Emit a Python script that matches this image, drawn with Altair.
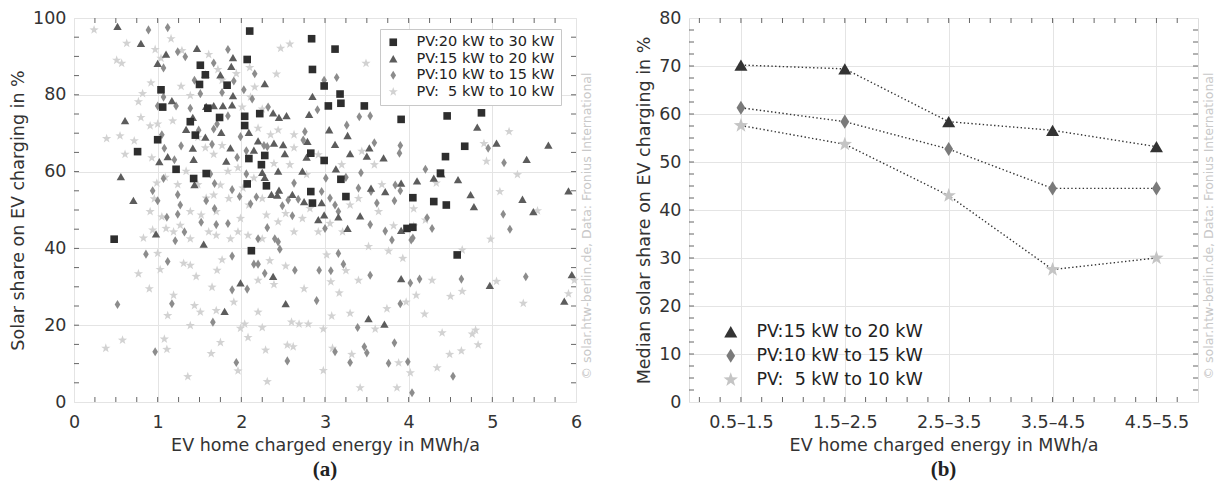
import altair as alt
import pandas as pd

FONT = "DejaVu Sans"
W_A, W_B, H = 502, 509, 384

# ---------------- Panel (a) data ----------------
series_a = ["PV:20 kW to 30 kW", "PV:15 kW to 20 kW", "PV:10 kW to 15 kW", "PV:\u20075 kW to 10 kW"]

sq_x = [0.48, 2.10, 2.84, 3.12, 2.85, 1.51, 2.07, 2.99, 3.18, 1.04, 1.06, 1.57, 1.50, 1.60, 1.83, 1.74,
        2.22, 2.04, 3.04, 3.19, 3.47, 3.91, 4.46, 4.87, 4.67, 4.44, 4.38, 4.30, 4.45, 4.05, 3.98, 4.05,
        1.00, 0.76, 1.22, 1.39, 1.45, 1.43, 1.58, 2.04, 2.09, 2.07, 2.24, 2.28, 2.30, 2.83, 2.99, 2.83,
        2.85, 3.19, 3.25, 2.12, 4.58]
sq_y = [42.4, 96.6, 94.6, 91.9, 86.6, 87.7, 89.2, 82.3, 80.2, 81.3, 76.8, 85.2, 82.7, 76.5, 82.5, 74.1,
        75.1, 74.4, 77.1, 77.8, 77.1, 73.6, 74.5, 75.3, 66.6, 63.9, 59.6, 52.2, 51.3, 53.2, 45.2, 45.5,
        68.3, 65.2, 60.6, 73.0, 69.5, 58.2, 59.5, 72.0, 63.4, 56.8, 61.8, 64.2, 56.3, 64.8, 62.9, 54.8,
        51.8, 58.0, 53.5, 39.4, 38.3]

tri_x = [0.52, 0.80, 1.47, 1.90, 1.10, 1.00, 0.61, 0.56, 0.71, 0.98, 1.17, 1.02, 1.12, 1.34, 1.42, 1.43,
         1.44, 1.42, 1.57, 1.57, 1.58, 1.67, 1.75, 1.78, 1.89, 1.88, 1.90, 1.76, 1.82, 1.87, 2.09, 2.15,
         2.20, 2.28, 2.38, 2.45, 2.54, 2.39, 2.50, 2.52, 2.44, 2.25, 2.28, 2.36, 2.43, 2.45, 2.61, 2.75,
         2.73, 2.78, 2.79, 2.81, 2.85, 2.96, 2.92, 2.99, 3.05, 3.12, 3.13, 3.16, 3.27, 3.30, 3.27, 3.42,
         3.50, 3.53, 3.70, 3.55, 3.91, 4.10, 4.30, 4.39, 4.59, 4.74, 4.78, 4.82, 5.05, 5.36, 5.41, 5.49,
         5.67, 5.91, 3.72, 3.91, 1.55, 1.99, 1.80, 2.38, 2.53, 3.52, 3.71, 3.91, 4.97, 5.95, 5.86]
tri_y = [97.8, 93.4, 92.1, 89.7, 90.6, 88.2, 73.3, 58.7, 52.5, 43.8, 78.5, 62.6, 63.9, 71.0, 66.1, 63.2,
         56.6, 74.1, 85.4, 69.0, 77.0, 77.2, 85.2, 77.2, 77.4, 87.4, 79.8, 70.2, 62.7, 66.2, 70.2, 65.6,
         68.0, 82.9, 75.3, 74.1, 74.6, 67.4, 67.0, 64.7, 60.1, 59.8, 58.5, 54.1, 53.9, 55.2, 54.1, 52.2,
         60.1, 63.8, 67.9, 74.9, 79.6, 51.9, 47.5, 48.7, 70.9, 67.1, 60.7, 48.2, 69.4, 64.7, 45.2, 48.5,
         64.0, 66.2, 63.6, 55.7, 57.0, 57.6, 58.3, 59.4, 57.9, 54.0, 50.9, 71.6, 67.4, 52.8, 63.2, 49.6,
         66.9, 55.0, 54.8, 44.7, 41.1, 31.0, 23.6, 32.7, 25.6, 21.7, 20.3, 32.1, 30.4, 33.2, 26.3]

dia_x = [0.89, 1.12, 1.24, 1.07, 1.07, 1.00, 1.22, 1.33, 1.84, 1.67, 1.91, 1.77, 1.44, 1.51, 2.03, 2.13,
         2.32, 2.16, 2.91, 2.99, 3.14, 3.41, 3.26, 3.59, 3.54, 2.76, 2.74, 1.05, 1.08, 1.28, 1.20, 1.39,
         1.49, 1.65, 1.71, 1.84, 1.67, 1.99, 1.95, 2.06, 2.27, 2.31, 1.89, 1.98, 2.06, 1.63, 1.68, 1.58,
         1.52, 1.68, 1.70, 1.84, 1.27, 1.00, 1.11, 1.24, 1.32, 1.21, 0.94, 1.07, 1.24, 2.11, 2.18, 2.31,
         2.20, 2.40, 2.44, 2.61, 2.56, 2.49, 2.63, 2.68, 3.01, 2.96, 3.06, 3.12, 3.16, 3.00, 3.25, 3.40,
         3.43, 3.55, 3.62, 3.54, 3.72, 3.83, 3.84, 3.90, 4.05, 4.20, 4.22, 4.28, 4.95, 5.14, 5.13, 5.21,
         3.90, 3.89, 0.86, 0.52, 1.12, 1.17, 0.97, 1.89, 1.89, 2.07, 1.94, 1.66, 2.15, 2.20, 2.28, 2.46,
         2.55, 2.64, 2.93, 2.90, 3.07, 3.16, 3.12, 3.22, 3.30, 3.39, 3.47, 3.50, 3.54, 3.76, 3.83, 3.90,
         3.99, 4.02, 4.04, 4.13, 4.63, 4.53, 5.40, 4.03, 3.80]
dia_y = [96.9, 97.5, 91.2, 87.0, 79.4, 77.1, 77.1, 89.9, 91.8, 88.3, 83.6, 80.6, 83.8, 80.3, 81.3, 78.9,
         76.8, 85.5, 76.1, 83.8, 84.5, 74.3, 72.1, 67.5, 74.5, 70.4, 68.2, 69.6, 66.1, 66.7, 63.1, 76.5,
         70.8, 67.1, 72.4, 74.5, 71.1, 69.1, 63.7, 65.4, 66.8, 66.5, 55.3, 53.5, 59.4, 59.4, 56.9, 52.4,
         46.8, 50.4, 46.2, 46.5, 51.3, 52.4, 48.1, 48.9, 44.3, 42.0, 55.0, 58.2, 54.0, 51.6, 53.4, 45.4,
         42.5, 42.5, 41.7, 48.5, 52.6, 51.1, 57.0, 52.8, 58.3, 54.8, 53.1, 51.3, 49.6, 45.2, 58.5, 55.7,
         59.7, 54.8, 51.8, 46.2, 44.5, 52.4, 56.5, 55.0, 42.7, 60.6, 48.0, 45.2, 66.1, 62.3, 48.9, 45.0,
         66.8, 64.8, 38.5, 25.4, 36.6, 25.6, 13.1, 38.0, 29.2, 29.4, 10.3, 20.8, 35.9, 35.9, 33.5, 39.8,
         10.7, 34.3, 34.3, 26.4, 34.2, 38.7, 13.1, 35.9, 10.3, 19.4, 14.4, 12.8, 33.0, 10.1, 15.4, 25.6,
         10.5, 31.0, 2.4, 32.0, 32.0, 6.7, 32.6, 42.2, 42.2]

star_x = [0.24, 0.51, 0.57, 0.63, 0.92, 1.04, 0.97, 0.82, 0.77, 0.80, 0.39, 0.55, 0.72, 0.61, 1.00, 0.91,
          1.16, 1.29, 1.28, 1.39, 1.18, 1.61, 1.72, 1.77, 1.94, 2.10, 2.16, 2.42, 2.47, 2.58, 3.49, 5.20,
          4.98, 5.54, 4.20, 4.06, 4.06, 3.82, 4.33, 4.90, 4.93, 5.09, 5.30, 0.93, 1.09, 0.99, 0.96, 0.91,
          1.05, 1.10, 1.19, 0.94, 0.83, 1.39, 1.61, 1.70, 1.67, 1.75, 1.85, 1.96, 2.02, 2.15, 2.09, 2.25,
          2.30, 1.96, 1.99, 2.08, 2.44, 2.53, 2.63, 2.73, 2.82, 2.92, 3.06, 3.21, 3.30, 3.40, 3.64, 3.68,
          2.58, 2.78, 2.39, 2.63, 2.92, 3.20, 3.44, 3.59, 1.48, 1.57, 1.67, 1.77, 1.84, 1.34, 1.24, 1.48,
          1.58, 1.39, 1.27, 1.52, 1.70, 1.87, 2.25, 2.44, 2.20, 2.35, 2.63, 2.01, 2.11, 2.25,
          0.38, 0.58, 0.77, 0.90, 1.00, 1.03, 1.08, 1.11, 1.12, 1.19, 1.31, 1.39, 1.36, 1.39, 1.44, 1.51,
          1.46, 1.65, 1.71, 1.70, 1.77, 1.75, 1.64, 1.91, 1.96, 1.99, 2.08, 2.04, 2.20, 2.25, 2.20, 2.29,
          2.31, 2.34, 2.39, 2.53, 2.55, 2.62, 2.60, 2.69, 2.75, 2.80, 2.98, 2.98, 3.02, 3.07, 3.08, 3.09,
          3.17, 3.25, 3.30, 3.32, 3.40, 3.42, 3.52, 3.60, 3.76, 3.74, 3.88, 3.86, 3.93, 3.97, 4.02, 4.09,
          4.19, 4.28, 4.34, 4.40, 4.50, 4.49, 4.63, 4.64, 4.76, 4.80, 4.83, 5.05, 5.37, 5.91, 5.98, 4.64]
star_y = [96.9, 89.0, 88.2, 93.4, 83.1, 89.5, 91.8, 80.3, 78.2, 74.1, 68.6, 69.3, 68.0, 64.5, 72.4, 71.9,
          94.6, 91.5, 82.2, 79.8, 73.2, 90.5, 86.6, 83.8, 85.5, 87.1, 82.0, 85.4, 92.1, 93.2, 88.2, 70.4,
          42.4, 49.8, 47.4, 50.3, 45.8, 45.9, 57.0, 67.3, 62.7, 54.8, 59.2, 63.6, 58.5, 57.0, 52.9, 49.6,
          48.2, 45.2, 44.3, 44.8, 42.7, 42.5, 44.3, 49.6, 53.9, 56.5, 53.0, 61.0, 55.7, 58.3, 51.3, 53.0,
          48.7, 44.3, 47.8, 43.4, 46.9, 49.1, 44.3, 47.8, 50.4, 44.3, 46.5, 44.3, 51.3, 53.0, 49.6, 56.6,
          61.8, 59.2, 62.1, 66.2, 64.4, 61.8, 65.3, 61.8, 68.9, 66.2, 64.5, 66.8, 60.1, 60.1, 56.6, 56.6,
          53.1, 49.6, 46.0, 48.7, 43.4, 42.5, 42.5, 70.8, 71.3, 69.6, 69.6, 76.8, 79.4, 76.3,
          14.0, 16.1, 33.4, 29.5, 38.7, 34.5, 16.4, 13.7, 22.5, 27.8, 36.1, 35.6, 6.6, 19.9, 25.1, 23.4,
          32.7, 29.9, 34.3, 23.8, 37.0, 15.5, 12.6, 26.0, 8.1, 19.2, 16.8, 20.3, 23.4, 19.4, 31.7, 13.5,
          5.3, 36.8, 30.6, 35.4, 14.8, 14.4, 20.8, 20.3, 29.5, 20.3, 19.0, 8.2, 38.3, 31.3, 22.4, 14.0,
          28.4, 34.2, 23.1, 12.4, 31.7, 3.7, 40.5, 19.0, 39.3, 24.3, 10.2, 3.7, 37.4, 26.0, 7.6, 27.8,
          22.9, 31.7, 8.9, 18.0, 27.5, 12.4, 13.3, 28.8, 17.7, 18.7, 14.9, 31.4, 25.7, 28.2, 31.7, 39.6]

a_x_labels = [0, 1, 2, 3, 4, 5, 6]
a_y_labels = [0, 20, 40, 60, 80, 100]

# ---------------- Panel (b) data ----------------
series_b = ["PV:15 kW to 20 kW", "PV:10 kW to 15 kW", "PV:\u20075 kW to 10 kW"]
b_categories = ["0.5\u20131.5", "1.5\u20132.5", "2.5\u20133.5", "3.5\u20134.5", "4.5\u20135.5"]
b_tri = [70.2, 69.4, 58.4, 56.6, 53.2]
b_dia = [61.3, 58.4, 52.7, 44.5, 44.5]
b_star = [57.6, 53.7, 43.0, 27.6, 30.0]
b_y_labels = [0, 10, 20, 30, 40, 50, 60, 70, 80]

watermark = "\u00a9 solar.htw-berlin.de, Data: Fronius International"

# ---------------- styles ----------------
STAR = ("M0,-1L0.235,-0.324L0.951,-0.309L0.38,0.124L0.588,0.809L0,0.4"
        "L-0.588,0.809L-0.38,0.124L-0.951,-0.309L-0.235,-0.324Z")
DIAMOND = "M0,-1L0.62,0L0,1L-0.62,0Z"

rows = []
for name, xs, ys in [(series_a[3], star_x, star_y), (series_a[2], dia_x, dia_y),
                     (series_a[1], tri_x, tri_y), (series_a[0], sq_x, sq_y)]:
    for xv, yv in zip(xs, ys):
        rows.append({"x": xv, "y": yv, "series": name})
df_a = pd.DataFrame(rows)

rows_b = []
for name, vals in zip(series_b, [b_tri, b_dia, b_star]):
    for i, v in enumerate(vals):
        rows_b.append({"pos": i + 1, "y": v, "series": name})
df_b = pd.DataFrame(rows_b)

axis_common = dict(labelFont=FONT, labelFontSize=17.5, labelColor="#333", titleFont=FONT,
                   titleFontSize=17.5, titleColor="#333", titleFontWeight="normal", domain=False,
                   ticks=False, grid=True, gridColor="#e4e4e4", gridWidth=1, labelFlush=False,
                   labelOverlap=False)
TL = 5
TICK_COLOR = "#666"


def wm_layer(width):
    return alt.Chart(pd.DataFrame({"t": [watermark]})).mark_text(
        angle=270, font=FONT, fontSize=12.5, color="#c8c8c8", align="center", baseline="middle"
    ).encode(text="t:N", x=alt.value(width + 11), y=alt.value(208))


def tick_layers(xvals, yvals, xscale, yscale, width):
    dx = pd.DataFrame({"x": xvals})
    dy = pd.DataFrame({"y": yvals})
    layers = []
    for y1, y2 in [(0, TL), (H - TL, H)]:
        layers.append(alt.Chart(dx).mark_rule(color=TICK_COLOR, strokeWidth=1).encode(
            x=alt.X("x:Q", scale=xscale), y=alt.value(y1), y2=alt.value(y2)))
    for x1, x2 in [(0, TL), (width - TL, width)]:
        layers.append(alt.Chart(dy).mark_rule(color=TICK_COLOR, strokeWidth=1).encode(
            y=alt.Y("y:Q", scale=yscale), x=alt.value(x1), x2=alt.value(x2)))
    return layers


# ---------------- Panel (a) ----------------
xs_a = alt.Scale(domain=[0, 6], nice=False, zero=False)
ys_a = alt.Scale(domain=[0, 100], nice=False)
a_x_ticks = [i * 0.25 for i in range(1, 24)]
a_y_ticks = [i * 5 for i in range(1, 20)]

legend_a = alt.Legend(title=None, orient="none", legendX=306, legendY=11, labelFont=FONT,
                      labelFontSize=14.5, labelColor="#222", symbolSize=65, rowPadding=1.5,
                      padding=6, strokeColor="#c8c8c8", fillColor="white", labelOffset=16,
                      symbolStrokeWidth=0, labelLimit=300)

pts_a = alt.Chart(df_a).mark_point(filled=True, opacity=1, strokeWidth=0).encode(
    x=alt.X("x:Q", scale=xs_a, axis=alt.Axis(values=a_x_labels, format="d",
                                             title="EV home charged energy in MWh/a",
                                             labelPadding=11, titlePadding=6, **axis_common)),
    y=alt.Y("y:Q", scale=ys_a, axis=alt.Axis(values=a_y_labels, format="d",
                                             title="Solar share on EV charging in %",
                                             labelPadding=8, titlePadding=5, **axis_common)),
    shape=alt.Shape("series:N", scale=alt.Scale(domain=series_a, range=["square", "triangle-up", DIAMOND, STAR]),
                    legend=legend_a),
    color=alt.Color("series:N", scale=alt.Scale(domain=series_a, range=["#2e2e2e", "#5c5c5c", "#8c8c8c", "#d2d2d2"]),
                    legend=legend_a),
    size=alt.Size("series:N", scale=alt.Scale(domain=series_a, range=[58, 95, 135, 95]), legend=None),
)

chart_a = alt.layer(pts_a, *tick_layers(a_x_ticks, a_y_ticks, xs_a, ys_a, W_A), wm_layer(W_A)).properties(
    width=W_A, height=H,
    title=alt.TitleParams("(a)", orient="bottom", font="Liberation Serif", fontSize=21, fontWeight="bold",
                          color="#222", offset=5))

# ---------------- Panel (b) ----------------
xs_b = alt.Scale(domain=[0.5, 5.4], nice=False, zero=False)
ys_b = alt.Scale(domain=[0, 80], nice=False)
b_x_ticks = [round(0.6 + 0.2 * i, 1) for i in range(24)]
b_y_ticks = [i * 2.5 for i in range(1, 32)]
label_expr = "[" + ",".join("'" + c + "'" for c in b_categories) + "][datum.value - 1]"

legend_b = alt.Legend(title=None, orient="none", legendX=33, legendY=305, labelFont=FONT,
                      labelFontSize=17.5, labelColor="#222", symbolSize=95, rowPadding=5,
                      labelOffset=17, symbolStrokeWidth=0, labelLimit=300)

lines_b = alt.Chart(df_b).mark_line(color="#333", strokeWidth=1.4, strokeDash=[1.4, 2.4]).encode(
    x=alt.X("pos:Q", scale=xs_b, axis=alt.Axis(values=[1, 2, 3, 4, 5], labelExpr=label_expr,
                                               title="EV home charged energy in MWh/a",
                                               labelPadding=11, titlePadding=6, **axis_common)),
    y=alt.Y("y:Q", scale=ys_b, axis=alt.Axis(values=b_y_labels, format="d",
                                             title="Median solar share on EV charging in %",
                                             labelPadding=8, titlePadding=5, **axis_common)),
    detail="series:N",
)

pts_b = alt.Chart(df_b).mark_point(filled=True, opacity=1, strokeWidth=0).encode(
    x=alt.X("pos:Q", scale=xs_b),
    y=alt.Y("y:Q", scale=ys_b),
    shape=alt.Shape("series:N", scale=alt.Scale(domain=series_b, range=["triangle-up", DIAMOND, STAR]),
                    legend=legend_b),
    color=alt.Color("series:N", scale=alt.Scale(domain=series_b, range=["#333333", "#7a7a7a", "#c4c4c4"]),
                    legend=legend_b),
    size=alt.Size("series:N", scale=alt.Scale(domain=series_b, range=[170, 230, 200]), legend=None),
)

chart_b = alt.layer(lines_b, pts_b, *tick_layers(b_x_ticks, b_y_ticks, xs_b, ys_b, W_B), wm_layer(W_B)).properties(
    width=W_B, height=H,
    title=alt.TitleParams("(b)", orient="bottom", font="Liberation Serif", fontSize=21, fontWeight="bold",
                          color="#222", offset=5))

chart = alt.hconcat(chart_a, chart_b, spacing=41).resolve_scale(
    color="independent", shape="independent", size="independent"
).resolve_legend(color="independent", shape="independent", size="independent").properties(
    padding={"left": 1, "top": 0, "right": 0, "bottom": 0}
).configure_view(stroke="#666", strokeWidth=1.3).configure(background="white")

chart.save("out.html", embed_options={"renderer": "svg", "actions": False})
